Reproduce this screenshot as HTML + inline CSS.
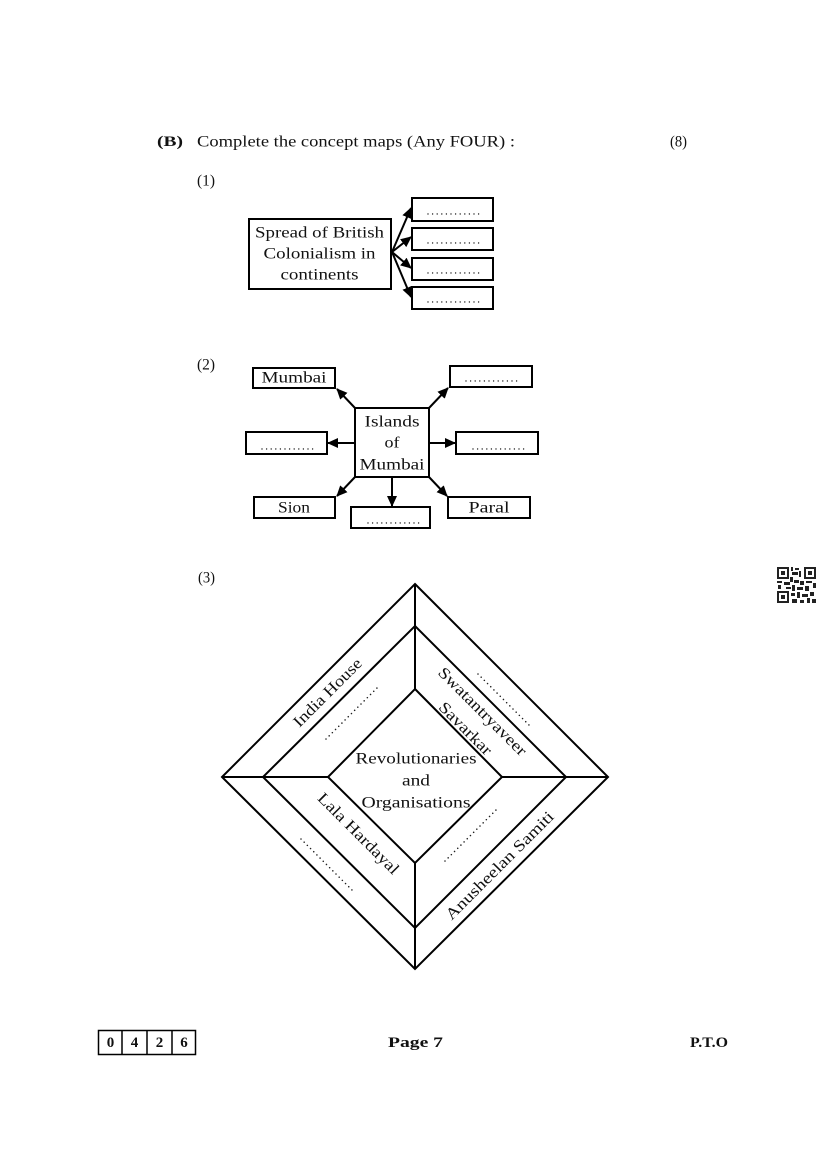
<!DOCTYPE html>
<html>
<head>
<meta charset="utf-8">
<style>
  html, body { margin:0; padding:0; background:#fff; }
  svg { display:block; }
  text { font-family: "Liberation Serif", serif; fill:#111; }
  .b { font-weight:bold; }
</style>
</head>
<body>
<svg width="827" height="1169" viewBox="0 0 827 1169" xmlns="http://www.w3.org/2000/svg">
  <defs>
    <marker id="ah" markerUnits="userSpaceOnUse" markerWidth="12" markerHeight="12" refX="10" refY="5" orient="auto">
      <path d="M0,0 L11,5 L0,10 z" fill="#000"/>
    </marker>
  </defs>

  <!-- Header -->
  <text x="157" y="142" font-size="15" class="b" dominant-baseline="central" textLength="26" lengthAdjust="spacingAndGlyphs">(B)</text>
  <text x="197" y="142" font-size="16" dominant-baseline="central" textLength="318" lengthAdjust="spacingAndGlyphs">Complete the concept maps (Any FOUR) :</text>
  <text x="670" y="142" font-size="16" dominant-baseline="central" textLength="17" lengthAdjust="spacingAndGlyphs">(8)</text>

  <!-- (1) -->
  <text x="197" y="181" font-size="16" dominant-baseline="central" textLength="18" lengthAdjust="spacingAndGlyphs">(1)</text>
  <rect x="249" y="219" width="142" height="70" fill="none" stroke="#000" stroke-width="2"/>
  <text x="319.5" y="233" font-size="16" text-anchor="middle" dominant-baseline="central" textLength="129" lengthAdjust="spacingAndGlyphs">Spread of British</text>
  <text x="319.5" y="254" font-size="16" text-anchor="middle" dominant-baseline="central" textLength="112" lengthAdjust="spacingAndGlyphs">Colonialism in</text>
  <text x="319.5" y="275" font-size="16" text-anchor="middle" dominant-baseline="central" textLength="78" lengthAdjust="spacingAndGlyphs">continents</text>

  <g fill="none" stroke="#000" stroke-width="2">
    <rect x="412" y="198" width="81" height="23"/>
    <rect x="412" y="228" width="81" height="22"/>
    <rect x="412" y="258" width="81" height="22"/>
    <rect x="412" y="287" width="81" height="22"/>
    <line x1="392" y1="252" x2="411" y2="208" marker-end="url(#ah)"/>
    <line x1="392" y1="252" x2="411" y2="237" marker-end="url(#ah)"/>
    <line x1="392" y1="252" x2="411" y2="268" marker-end="url(#ah)"/>
    <line x1="392" y1="252" x2="411" y2="297" marker-end="url(#ah)"/>
  </g>
  <g stroke="#222" stroke-width="1.4" stroke-linecap="round" stroke-dasharray="0 4.6">
    <line x1="428" y1="214" x2="479" y2="214"/>
    <line x1="428" y1="243" x2="479" y2="243"/>
    <line x1="428" y1="273" x2="479" y2="273"/>
    <line x1="428" y1="302" x2="479" y2="302"/>
  </g>

  <!-- (2) -->
  <text x="197" y="365" font-size="16" dominant-baseline="central" textLength="18" lengthAdjust="spacingAndGlyphs">(2)</text>
  <g fill="none" stroke="#000" stroke-width="2">
    <rect x="253" y="368" width="82" height="20"/>
    <rect x="450" y="366" width="82" height="21"/>
    <rect x="355" y="408" width="74" height="69"/>
    <rect x="246" y="432" width="81" height="22"/>
    <rect x="456" y="432" width="82" height="22"/>
    <rect x="254" y="497" width="81" height="21"/>
    <rect x="351" y="507" width="79" height="21"/>
    <rect x="448" y="497" width="82" height="21"/>
    <line x1="355" y1="408" x2="337" y2="389" marker-end="url(#ah)"/>
    <line x1="429" y1="408" x2="448" y2="388" marker-end="url(#ah)"/>
    <line x1="355" y1="443" x2="328" y2="443" marker-end="url(#ah)"/>
    <line x1="429" y1="443" x2="455" y2="443" marker-end="url(#ah)"/>
    <line x1="355" y1="477" x2="337" y2="496" marker-end="url(#ah)"/>
    <line x1="392" y1="477" x2="392" y2="506" marker-end="url(#ah)"/>
    <line x1="429" y1="477" x2="447" y2="496" marker-end="url(#ah)"/>
  </g>
  <text x="294" y="378" font-size="16" text-anchor="middle" dominant-baseline="central" textLength="65" lengthAdjust="spacingAndGlyphs">Mumbai</text>
  <text x="392" y="422" font-size="16" text-anchor="middle" dominant-baseline="central" textLength="55" lengthAdjust="spacingAndGlyphs">Islands</text>
  <text x="392" y="443" font-size="16" text-anchor="middle" dominant-baseline="central" textLength="15" lengthAdjust="spacingAndGlyphs">of</text>
  <text x="392" y="465" font-size="16" text-anchor="middle" dominant-baseline="central" textLength="65" lengthAdjust="spacingAndGlyphs">Mumbai</text>
  <text x="294" y="508" font-size="16" text-anchor="middle" dominant-baseline="central" textLength="32" lengthAdjust="spacingAndGlyphs">Sion</text>
  <text x="489" y="508" font-size="16" text-anchor="middle" dominant-baseline="central" textLength="41" lengthAdjust="spacingAndGlyphs">Paral</text>
  <g stroke="#222" stroke-width="1.4" stroke-linecap="round" stroke-dasharray="0 4.6">
    <line x1="466" y1="381" x2="517" y2="381"/>
    <line x1="262" y1="449" x2="313" y2="449"/>
    <line x1="473" y1="449" x2="524" y2="449"/>
    <line x1="368" y1="523" x2="419" y2="523"/>
  </g>

  <!-- (3) -->
  <text x="198" y="578" font-size="16" dominant-baseline="central" textLength="17" lengthAdjust="spacingAndGlyphs">(3)</text>
  <g fill="none" stroke="#000" stroke-width="2" stroke-linejoin="miter">
    <polygon points="415,584 608,777 415,969 222,777"/>
    <polygon points="415,626 566,777 415,928 263,777"/>
    <polygon points="415,689 502,777 415,863 328,777"/>
    <line x1="415" y1="584" x2="415" y2="689"/>
    <line x1="415" y1="863" x2="415" y2="969"/>
    <line x1="222" y1="777" x2="328" y2="777"/>
    <line x1="502" y1="777" x2="608" y2="777"/>
  </g>
  <text x="416" y="759" font-size="16" text-anchor="middle" dominant-baseline="central" textLength="121" lengthAdjust="spacingAndGlyphs">Revolutionaries</text>
  <text x="416" y="781" font-size="16" text-anchor="middle" dominant-baseline="central" textLength="28" lengthAdjust="spacingAndGlyphs">and</text>
  <text x="416" y="803" font-size="16" text-anchor="middle" dominant-baseline="central" textLength="109" lengthAdjust="spacingAndGlyphs">Organisations</text>

  <text transform="translate(328,693) rotate(-45)" font-size="16" text-anchor="middle" dominant-baseline="central" textLength="90" lengthAdjust="spacingAndGlyphs">India House</text>
  <text transform="translate(482,712) rotate(45)" font-size="16" text-anchor="middle" dominant-baseline="central" textLength="118" lengthAdjust="spacingAndGlyphs">Swatantryaveer</text>
  <text transform="translate(465,729) rotate(45)" font-size="16" text-anchor="middle" dominant-baseline="central" textLength="68" lengthAdjust="spacingAndGlyphs">Savarkar</text>
  <text transform="translate(358,834) rotate(45)" font-size="16" text-anchor="middle" dominant-baseline="central" textLength="108" lengthAdjust="spacingAndGlyphs">Lala Hardayal</text>
  <text transform="translate(500,866) rotate(-45)" font-size="16" text-anchor="middle" dominant-baseline="central" textLength="146" lengthAdjust="spacingAndGlyphs">Anusheelan Samiti</text>

  <g stroke="#222" stroke-width="1.6" stroke-linecap="round" stroke-dasharray="0 4.5">
    <line x1="326" y1="739" x2="379" y2="686"/>
    <line x1="478" y1="674" x2="531" y2="727"/>
    <line x1="301" y1="839" x2="354" y2="892"/>
    <line x1="445" y1="861" x2="498" y2="808"/>
  </g>

  <!-- QR code -->
  <g fill="#222">
    <rect x="777" y="567" width="12" height="12"/>
    <rect x="779" y="569" width="8" height="8" fill="#fff"/>
    <rect x="781" y="571" width="4" height="4"/>
    <rect x="804" y="567" width="12" height="12"/>
    <rect x="806" y="569" width="8" height="8" fill="#fff"/>
    <rect x="808" y="571" width="4" height="4"/>
    <rect x="777" y="591" width="12" height="12"/>
    <rect x="779" y="593" width="8" height="8" fill="#fff"/>
    <rect x="781" y="595" width="4" height="4"/>
    <rect x="791" y="567" width="2" height="4"/>
    <rect x="795" y="568" width="4" height="2"/>
    <rect x="792" y="572" width="6" height="3"/>
    <rect x="799" y="571" width="2" height="6"/>
    <rect x="790" y="577" width="3" height="5"/>
    <rect x="777" y="581" width="5" height="2"/>
    <rect x="784" y="582" width="6" height="3"/>
    <rect x="778" y="585" width="3" height="4"/>
    <rect x="794" y="580" width="5" height="3"/>
    <rect x="800" y="581" width="4" height="4"/>
    <rect x="806" y="581" width="6" height="2"/>
    <rect x="813" y="583" width="3" height="5"/>
    <rect x="786" y="587" width="5" height="2"/>
    <rect x="792" y="585" width="3" height="6"/>
    <rect x="797" y="587" width="6" height="3"/>
    <rect x="805" y="586" width="4" height="5"/>
    <rect x="791" y="593" width="4" height="3"/>
    <rect x="797" y="592" width="3" height="6"/>
    <rect x="802" y="594" width="6" height="3"/>
    <rect x="810" y="592" width="4" height="4"/>
    <rect x="792" y="599" width="5" height="4"/>
    <rect x="800" y="600" width="4" height="3"/>
    <rect x="807" y="598" width="3" height="5"/>
    <rect x="812" y="599" width="4" height="4"/>
  </g>

  <!-- Footer -->
  <g fill="none" stroke="#000" stroke-width="1.5">
    <rect x="98.5" y="1030.5" width="97" height="24"/>
    <line x1="122" y1="1030" x2="122" y2="1055"/>
    <line x1="147" y1="1030" x2="147" y2="1055"/>
    <line x1="172" y1="1030" x2="172" y2="1055"/>
  </g>
  <g font-size="15" class="b" text-anchor="middle" dominant-baseline="central">
    <text x="110.5" y="1043" class="b">0</text>
    <text x="134.5" y="1043" class="b">4</text>
    <text x="159.5" y="1043" class="b">2</text>
    <text x="184" y="1043" class="b">6</text>
  </g>
  <text x="388" y="1043" font-size="15" class="b" dominant-baseline="central" textLength="55" lengthAdjust="spacingAndGlyphs">Page 7</text>
  <text x="690" y="1043" font-size="15" class="b" dominant-baseline="central" textLength="38" lengthAdjust="spacingAndGlyphs">P.T.O</text>
</svg>
</body>
</html>
